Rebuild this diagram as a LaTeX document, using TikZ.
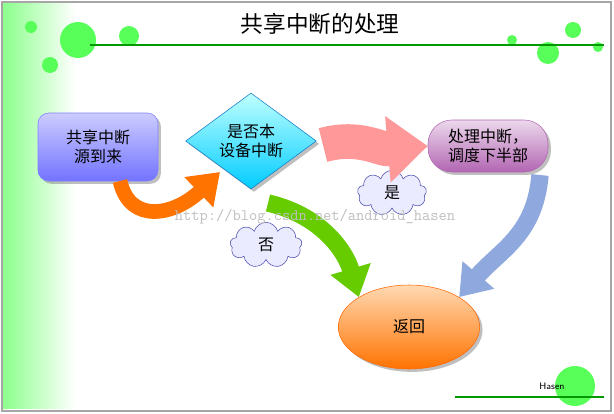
\documentclass[tikz,border=0pt]{standalone}
\usepackage{fontspec}
\newfontfamily\cjk{Noto Sans CJK SC}
\usetikzlibrary{shapes.geometric,shapes.symbols,arrows.meta,shadows}
\begin{document}
\begin{tikzpicture}[x=0.75pt,y=-0.75pt,font=\cjk,
  fat/.style={line width=#1,-{Triangle[length=22pt,width=30pt]}},
  cl/.style={cloud,cloud puffs=9,aspect=1.5,draw=blue!40!gray,fill=blue!8,inner sep=1pt,font=\cjk\large}]
\useasboundingbox (0,0) rectangle (614,414);
\fill[white] (0,0) rectangle (614,414);
\shade[left color=green!45,right color=white] (3,3) rectangle (75,408);
\draw[gray!70,line width=1.5pt] (2,2) rectangle (611,411);
\foreach \x/\y/\r in {31/27/6,78/40/18,129/36/10,50/65/8,512/40/5,573/30/8,548/53/11,598/47/5}
  \fill[green!65] (\x,\y) circle (\r);
\draw[green!60!black,line width=0.8pt] (90,45) -- (604,45);
\node (title) at (320,24) {\fontsize{17}{20}\selectfont 共享中断的处理};
\fill[green!65] (575,386) circle (20);
\draw[green!60!black,line width=0.8pt] (455,397) -- (604,397);
\node[font=\sffamily\scriptsize] (hasen) at (552,386) {Hasen};
% nodes
\node[draw=blue!50,rounded corners=8pt,top color=blue!20,bottom color=blue!55,minimum width=90pt,minimum height=51pt,align=center,font=\cjk\large,drop shadow] (src) at (98,147) {共享中断\\源到来};
\node[diamond,draw=cyan!60!blue,top color=cyan!25,bottom color=cyan!80!blue,minimum width=98pt,minimum height=72pt,aspect=1.4,align=center,inner sep=0pt,font=\cjk\large,drop shadow] (dev) at (251,141) {是否本\\设备中断};
\node[draw=violet!60,rounded corners=18pt,top color=violet!15,bottom color=violet!60,minimum width=90pt,minimum height=39pt,align=center,font=\cjk\large,drop shadow] (proc) at (488,146) {处理中断，\\调度下半部};
\node[ellipse,draw=orange!80!red,top color=orange!30,bottom color=orange!90!red,minimum width=106pt,minimum height=63pt,font=\cjk\large,drop shadow] (ret) at (409,327) {返回};
\node[cl,minimum width=52pt,minimum height=34pt] (yes) at (392,193) {是};
\node[cl,minimum width=54pt,minimum height=34pt] (no) at (266,245) {否};
% arrows
\coordinate (a1) at (120,181);
\coordinate (a2) at (220,172);
\draw[fat=11pt,orange!90!red] (a1) .. controls (130,225) and (175,215) .. (a2);
\coordinate (r1) at (323,145);
\draw[line width=26pt,red!40,-{Triangle[length=30pt,width=48pt]}] (r1) .. controls (360,135) and (380,150) .. (proc.west);
\coordinate (g1) at (268,203);
\draw[fat=13pt,green!50!yellow!80!black] (g1) .. controls (320,215) and (345,250) .. (ret.north west);
\coordinate (b1) at (540,175);
\draw[fat=13pt,cyan!45!blue!45] (b1) .. controls (535,235) and (500,250) .. (ret.north east);
\node[text=gray!50,font=\ttfamily\large] (wm) at (315,217) {http://blog.csdn.net/android\_hasen};
\end{tikzpicture}
\end{document}
